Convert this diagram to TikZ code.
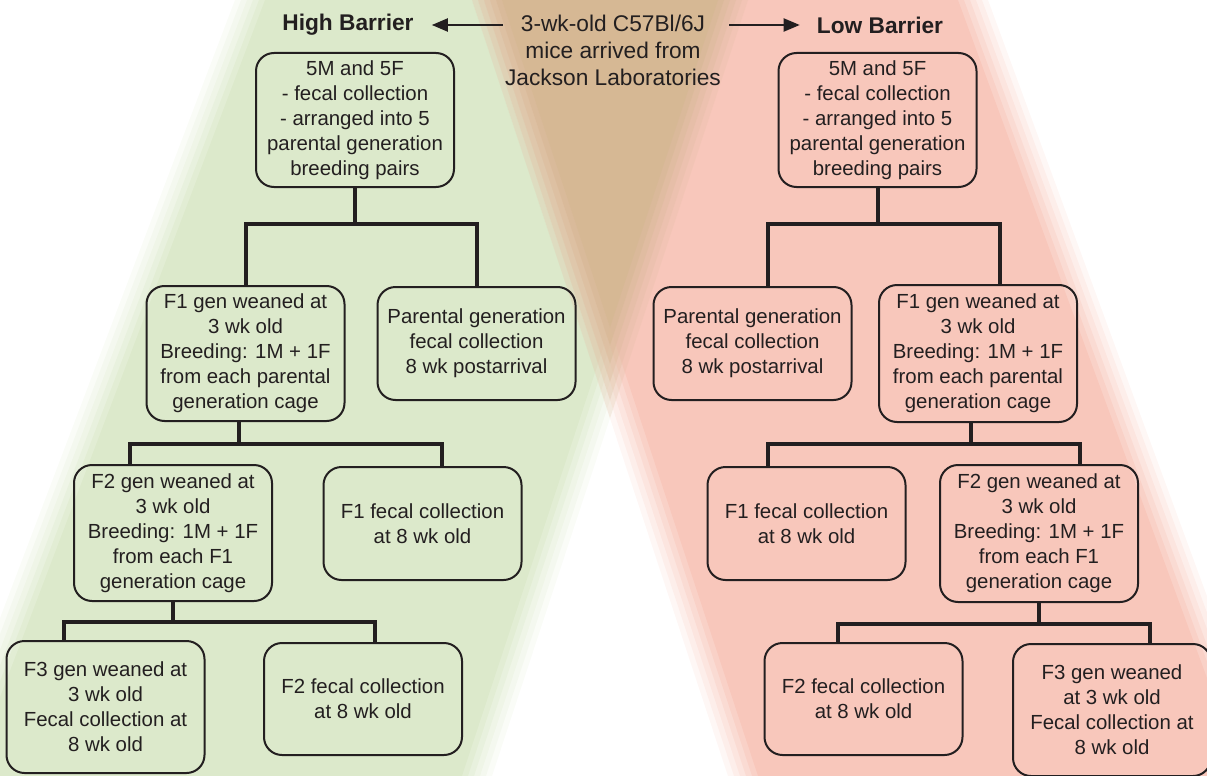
\documentclass[tikz,border=0pt]{standalone}
\usepackage{fontspec}
\setmainfont{Liberation Sans}
\usepackage{tikz}
\usetikzlibrary{arrows.meta,calc}
\definecolor{ink}{RGB}{35,31,32}
\definecolor{hbgreen}{RGB}{220,233,203}
\definecolor{lbrose}{RGB}{248,199,187}
\definecolor{mixtan}{RGB}{214,184,148}
\tikzset{
  caja/.style={
    rounded corners=18pt,
    draw=ink,
    line width=2pt,
    align=center,
    minimum width=198pt,
    inner sep=4pt,
    text=ink,
    font=\fontsize{20.4}{25}\selectfont
  },
  titulo/.style={
    inner sep=0pt,
    text=ink,
    font=\fontsize{22.7}{27}\selectfont\bfseries
  },
  rama/.style={
    line width=4pt,
    draw=ink
  },
  arrow/.style={
    -{Triangle[length=16pt,width=13pt]},
    line width=2pt,
    ink
  }
}
% soft band: colour, top-left x, bottom-left x, top-right x, bottom-right x
\newcommand{\banda}[5]{%
  \foreach \d/\o in {-15/0.15,-9/0.18,-3/0.24,3/0.33,9/0.5,15/1}{
    \fill[#1,opacity=\o] ({#2+\d},0) -- ({#4-\d},0) -- ({#5-\d},776) -- ({#3+\d},776) -- cycle;
  }%
}

\begin{document}
\begin{tikzpicture}[x=1pt,y=-1pt]
\useasboundingbox (0,0) rectangle (1207,776);
% fondo
\begin{scope}
\clip (0,0) rectangle (1207,776);
\banda{hbgreen}{250}{-45}{733}{477}
\banda{lbrose}{487}{743}{973}{1258}
\foreach \d/\o in {-15/0.15,-9/0.18,-3/0.24,3/0.33,9/0.5,15/1}{
  \fill[mixtan,opacity=\o] ({487+\d},0) -- ({733-\d},0) -- (610,{(246-2*\d)/0.66}) -- cycle;
}
\end{scope}

\node[titulo] (hb) at (348,25) {High Barrier};
\node[titulo] (lb) at (880,25) {Low Barrier};
\node[align=center,inner sep=2pt,text=ink,font=\fontsize{22.7}{27}\selectfont] (orig) at (613,50) {3-wk-old C57Bl/6J\\mice arrived from\\Jackson Laboratories};
\draw[arrow,shorten >=18pt] (orig.west |- hb) -- (hb.east);
\draw[arrow,shorten <=6pt,shorten >=17pt] (orig.east |- lb) -- (lb.west);

% High Barrier
\node[caja,minimum height=134pt] (b1) at (355,120) {5M and 5F\\- fecal collection\\- arranged into 5\\parental generation\\breeding pairs};
\node[caja,minimum height=135pt] (l2a) at (245.5,353.5) {F1 gen weaned at\\3 wk old\\Breeding: 1M + 1F\\from each parental\\generation cage};
\node[caja,minimum height=113pt] (l2b) at (476.5,343.5) {Parental generation\\fecal collection\\8 wk postarrival};
\node[caja,minimum height=136pt] (l3a) at (173,533) {F2 gen weaned at\\3 wk old\\Breeding: 1M + 1F\\from each F1\\generation cage};
\node[caja,minimum height=113pt] (l3b) at (422.5,523.5) {F1 fecal collection\\at 8 wk old};
\node[caja,minimum height=132pt] (l4a) at (105.5,707) {F3 gen weaned at\\3 wk old\\Fecal collection at\\8 wk old};
\node[caja,minimum height=112pt] (l4b) at (363,699) {F2 fecal collection\\at 8 wk old};

% Low Barrier
\node[caja,minimum height=134pt] (r1) at (877.5,120) {5M and 5F\\- fecal collection\\- arranged into 5\\parental generation\\breeding pairs};
\node[caja,minimum height=113pt] (r2a) at (752.5,343.5) {Parental generation\\fecal collection\\8 wk postarrival};
\node[caja,minimum height=137pt] (r2b) at (978,353.5) {F1 gen weaned at\\3 wk old\\Breeding: 1M + 1F\\from each parental\\generation cage};
\node[caja,minimum height=113pt] (r3a) at (806.5,523.5) {F1 fecal collection\\at 8 wk old};
\node[caja,minimum height=137pt] (r3b) at (1039,533.5) {F2 gen weaned at\\3 wk old\\Breeding: 1M + 1F\\from each F1\\generation cage};
\node[caja,minimum height=112pt] (r4a) at (863.5,699) {F2 fecal collection\\at 8 wk old};
\node[caja,minimum height=132pt] (r4b) at (1112,710) {F3 gen weaned\\at 3 wk old\\Fecal collection at\\8 wk old};

\draw[rama] (b1.south) -- ++(0,36) -| (l2a.north);
\draw[rama] (b1.south) -- ++(0,36) -| (l2b.north);
\draw[rama] ([xshift=-6.5pt]l2a.south) -- ++(0,22) -| ([xshift=-43pt]l3a.north);
\draw[rama] ([xshift=-6.5pt]l2a.south) -- ++(0,22) -| ([xshift=19.5pt]l3b.north);
\draw[rama] (l3a.south) -- ++(0,20) -| ([xshift=-41.5pt]l4a.north);
\draw[rama] (l3a.south) -- ++(0,20) -| ([xshift=12pt]l4b.north);

\draw[rama] (r1.south) -- ++(0,36) -| ([xshift=15.5pt]r2a.north);
\draw[rama] (r1.south) -- ++(0,36) -| ([xshift=22pt]r2b.north);
\draw[rama] ([xshift=-7pt]r2b.south) -- ++(0,21) -| ([xshift=-38.5pt]r3a.north);
\draw[rama] ([xshift=-7pt]r2b.south) -- ++(0,21) -| ([xshift=41pt]r3b.north);
\draw[rama] (r3b.south) -- ++(0,21) -| ([xshift=-25.5pt]r4a.north);
\draw[rama] (r3b.south) -- ++(0,21) -| ([xshift=38pt]r4b.north);
\end{tikzpicture}
\end{document}
